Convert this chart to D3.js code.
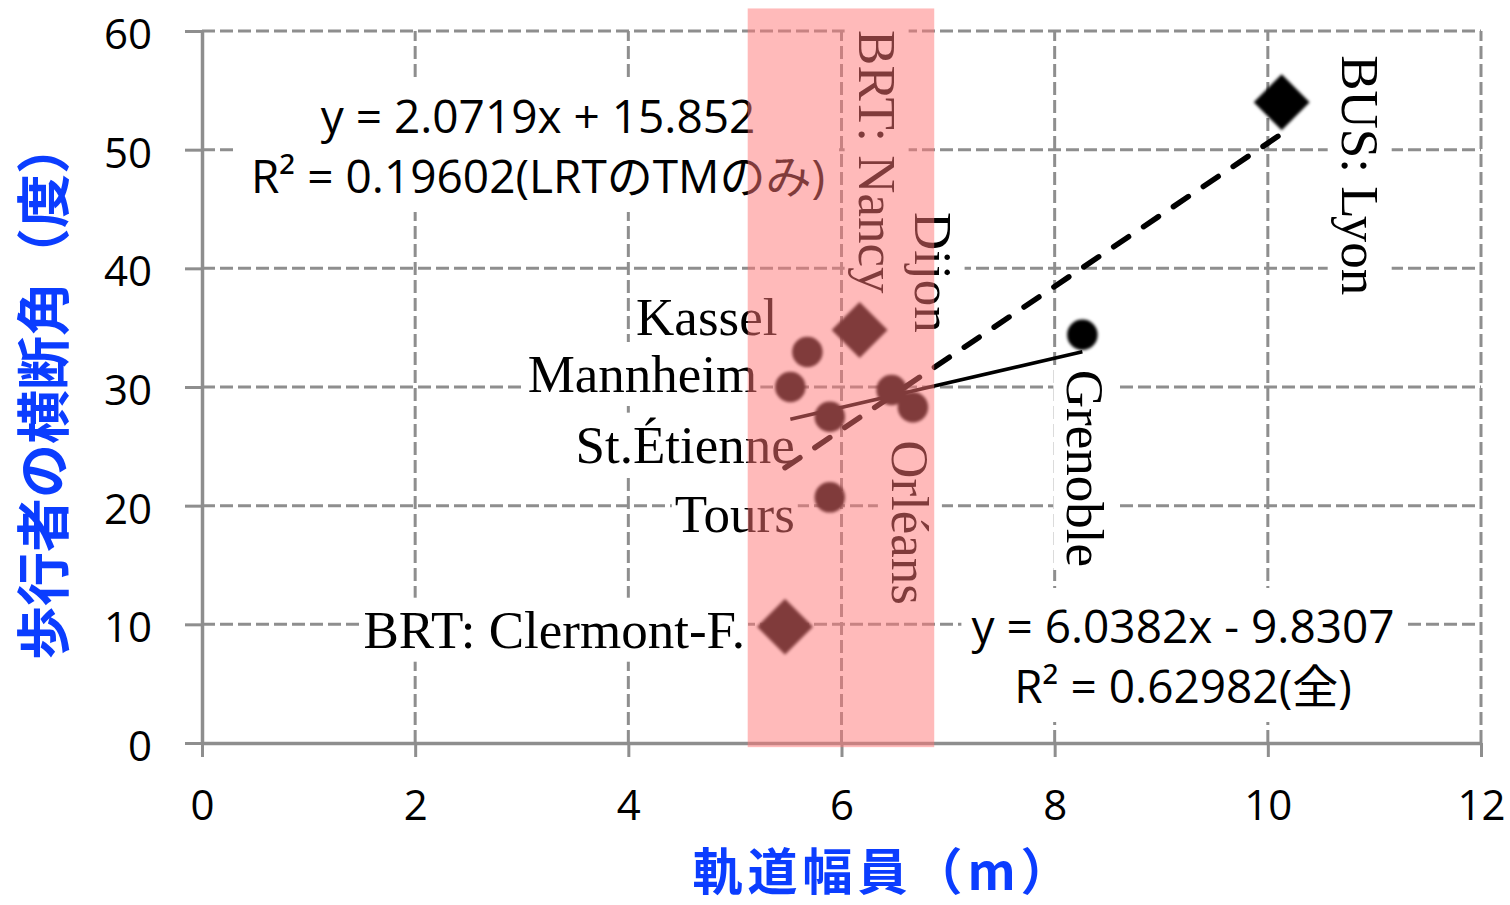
<!DOCTYPE html>
<html><head><meta charset="utf-8">
<script src="https://cdn.jsdelivr.net/npm/d3@7"></script>
<style>body{margin:0;background:#fff;} svg{display:block}</style>
</head><body>
<svg id="c" width="1510" height="905"></svg>
<script>
// ---- data ----
const cities  = ["BUS: Lyon","Grenoble","BRT: Nancy","Kassel","Mannheim","St.Étienne","Dijon","Orléans","Tours","BRT: Clermont-F."];
const widths  = [10.13, 8.26, 6.17, 5.68, 5.52, 5.89, 6.47, 6.67, 5.89, 5.47];
const angles  = [54.0, 34.4, 34.8, 32.95, 30.0, 27.5, 29.75, 28.3, 20.7, 9.8];
const kinds   = ["BUS","LRT","BRT","LRT","LRT","LRT","LRT","LRT","LRT","BRT"];
const xTicks  = [0,2,4,6,8,10,12];
const yTicks  = [0,10,20,30,40,50,60];
const trendAll = [6.0382, -9.8307];
const trendLRT = [2.0719, 15.852];
const eqAll = ["y = 6.0382x - 9.8307", "R² = 0.62982(全)"];
const eqLRT = ["y = 2.0719x + 15.852", "R² = 0.19602(LRTのTMのみ)"];
const bandX = [5.12, 6.87];
const bandY = [-0.35, 61.9];
const xTitle = "軌道幅員（m）";
const yTitle = "歩行者の横断角（度）";

// ---- layout ----
const svg = d3.select("#c");
const x = d3.scaleLinear().domain([0,12]).range([202,1481]);
const y = d3.scaleLinear().domain([0,60]).range([743,31]);
const gray = "#8e8e8e";
const blue = "#0B3DFF";
const serif = "'Liberation Serif','Times New Roman',serif";
const sans = "'Open Sans','Noto Sans CJK JP',sans-serif";

const defs = svg.append("defs");
defs.append("filter").attr("id","soft").attr("x","-30%").attr("y","-30%").attr("width","160%").attr("height","160%")
  .append("feGaussianBlur").attr("stdDeviation",1.4);

// gridlines
const grid = svg.append("g").attr("stroke",gray).attr("stroke-width",3).attr("stroke-dasharray","13,5");
grid.selectAll("line.v").data(xTicks.filter(d=>d>0)).join("line").attr("class","v")
  .attr("x1",d=>x(d)).attr("x2",d=>x(d)).attr("y1",y(0)).attr("y2",y(60));
grid.selectAll("line.h").data(yTicks.filter(d=>d>0)).join("line").attr("class","h")
  .attr("x1",x(0)).attr("x2",x(12)).attr("y1",d=>y(d)).attr("y2",d=>y(d));

// axes
const yAxis = svg.append("g").attr("transform",`translate(${x(0)},0)`)
  .call(d3.axisLeft(y).tickValues(yTicks).tickSize(17).tickSizeOuter(0).tickPadding(33));
const xAxis = svg.append("g").attr("transform",`translate(0,${y(0)})`)
  .call(d3.axisBottom(x).tickValues(xTicks).tickSize(14).tickSizeOuter(0).tickPadding(33));
[yAxis,xAxis].forEach(a=>{
  a.select(".domain").attr("stroke",gray).attr("stroke-width",3.5);
  a.selectAll(".tick line").attr("stroke",gray).attr("stroke-width",3);
  a.selectAll(".tick text").attr("fill","#000").style("font-family",sans).style("font-size","42px");
});
yAxis.selectAll(".tick text").attr("dy","0.42em");

// axis titles
svg.append("text").attr("transform",`translate(64,390) rotate(-90)`).attr("text-anchor","middle")
  .attr("fill",blue).style("font-family","'Noto Sans CJK JP',sans-serif").style("font-weight","bold").style("font-size","54px")
  .text(yTitle);
svg.append("text").attr("x",884).attr("y",890).attr("text-anchor","middle")
  .attr("fill",blue).style("font-family","'Noto Sans CJK JP',sans-serif").style("font-weight","bold").style("font-size","50px")
  .style("letter-spacing","5px")
  .text(xTitle);

// labels with white boxes
const labelLayer = svg.append("g");
function boxedText(lines, tx, ty, rot, anchor, font, size, lh, padX, padY){
  const g = labelLayer.append("g").attr("transform",`translate(${tx},${ty}) rotate(${rot})`);
  const t = g.append("text").attr("text-anchor",anchor).style("font-family",font).style("font-size",size+"px").attr("fill","#000");
  lines.forEach((l,i)=>t.append("tspan").attr("x",0).attr("y",i*lh).text(l));
  const b = t.node().getBBox();
  g.insert("rect","text").attr("x",b.x-padX).attr("y",b.y-padY).attr("width",b.width+2*padX).attr("height",b.height+2*padY).attr("fill","#fff");
}
// offsets of each city label from its point (pixels), rotation
const labelPos = {
  "BUS: Lyon":[60,-47,90,"start"],
  "Grenoble":[-15,35,90,"start"],
  "BRT: Nancy":[-1,-300,90,"start"],
  "Dijon":[23,-178,90,"start"],
  "Orléans":[-21,33,90,"start"],
  "Kassel":[-30,-17,0,"end"],
  "Mannheim":[-33,5,0,"end"],
  "St.Étienne":[-35,46,0,"end"],
  "Tours":[-35,35,0,"end"],
  "BRT: Clermont-F.":[-40,21,0,"end"]
};
cities.forEach((c,i)=>{
  const p = labelPos[c];
  boxedText([c], x(widths[i])+p[0], y(angles[i])+p[1], p[2], p[3], serif, 53, 0, 3, 3);
});
boxedText(eqLRT, 538, 133, 0, "middle", sans, 46, 60, 14, 6);
boxedText(eqAll, 1183, 643, 0, "middle", sans, 46, 60, 10, 6);

// trendlines
const lrtX = widths.filter((d,i)=>kinds[i]==="LRT");
const lrtExt = d3.extent(lrtX), allExt = d3.extent(widths);
const line = d3.line().x(d=>x(d[0])).y(d=>y(d[1]));
svg.append("path").attr("d",line(lrtExt.map(v=>[v, trendLRT[0]*v+trendLRT[1]])))
  .attr("stroke","#000").attr("stroke-width",3.5).attr("fill","none");
svg.append("path").attr("d",line(allExt.map(v=>[v, trendAll[0]*v+trendAll[1]])))
  .attr("stroke","#000").attr("stroke-width",5.5).attr("stroke-linecap","round").attr("stroke-dasharray","18,18").attr("fill","none");

// points
const diamond = d3.symbol().type(d3.symbolSquare).size(1560);
const circle = d3.symbol().type(d3.symbolCircle).size(730);
svg.append("g").attr("filter","url(#soft)").selectAll("path").data(cities).join("path")
  .attr("transform",(d,i)=>`translate(${x(widths[i])},${y(angles[i])})` + (kinds[i]==="LRT"?"":" rotate(45)"))
  .attr("d",(d,i)=>kinds[i]==="LRT"?circle():diamond())
  .attr("fill","#000");

// highlight band on top
svg.append("rect").attr("x",x(bandX[0])).attr("width",x(bandX[1])-x(bandX[0]))
  .attr("y",y(bandY[1])).attr("height",y(bandY[0])-y(bandY[1]))
  .attr("fill","rgb(255,118,118)").attr("fill-opacity",0.5);
</script>
</body></html>
